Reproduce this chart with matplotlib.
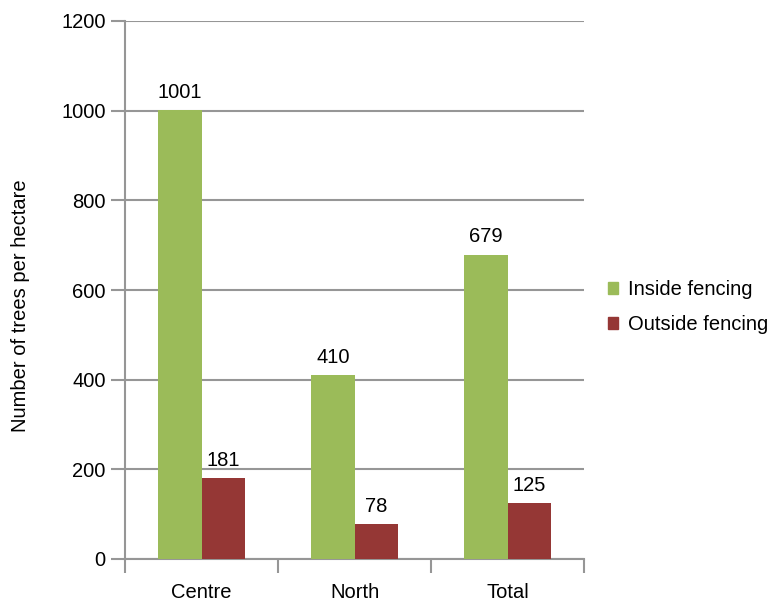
import matplotlib.pyplot as plt
import numpy as np
from matplotlib.patches import Patch

plt.rcParams['font.family'] = ['Liberation Sans', 'DejaVu Sans']

categories = ["Centre", "North", "Total"]
inside = [1001, 410, 679]
outside = [181, 78, 125]
yticks = [0, 200, 400, 600, 800, 1000, 1200]

green = "#9BBB59"
red = "#953735"
grey = "#969696"
fs = 14.5

fig = plt.figure(figsize=(7.84, 6.05), dpi=100)
ax = fig.add_axes([125/784, 46/605, 459/784, 538/605])

x = np.arange(len(categories))
w = 0.284
b1 = ax.bar(x - w/2, inside, w, color=green, zorder=3)
b2 = ax.bar(x + w/2, outside, w, color=red, zorder=3)

for bars in (b1, b2):
    for r in bars:
        ax.annotate(f"{int(r.get_height())}", xy=(r.get_x() + r.get_width()/2, r.get_height()),
                    xytext=(0, 6), textcoords="offset points",
                    ha="center", va="bottom", fontsize=fs)

ax.set_xlim(-0.5, 2.5)
ax.set_ylim(0, 1200)
ax.set_yticks(yticks)
ax.yaxis.grid(True, color=grey, linewidth=1.5, zorder=0)
ax.set_axisbelow(True)

# category ticks sit between the groups
ax.set_xticks([-0.5, 0.5, 1.5, 2.5])
ax.set_xticklabels([])
ax.set_xticks(x, minor=True)
ax.set_xticklabels(categories, minor=True, fontsize=fs)
ax.tick_params(axis="x", which="minor", length=0, pad=17)
ax.tick_params(axis="x", which="major", length=10, width=1.5, color=grey, direction="out")
ax.tick_params(axis="y", length=10, width=1.5, color=grey, labelsize=fs, pad=4)

for s in ["top", "right"]:
    ax.spines[s].set_visible(False)
for s in ["left", "bottom"]:
    ax.spines[s].set_color(grey)
    ax.spines[s].set_linewidth(1.5)

ax.set_ylabel("Number of trees per hectare", fontsize=fs)
ax.yaxis.set_label_coords((30 - 125) / 459, (559 - 306) / 538)

handles = [Patch(color=green, label="Inside fencing"), Patch(color=red, label="Outside fencing")]
fig.legend(handles=handles, loc="center left", bbox_to_anchor=(608/784, 1 - 307/605),
           frameon=False, fontsize=fs, handlelength=0.5, handleheight=0.5,
           handletextpad=0.5, labelspacing=0.8, borderpad=0, borderaxespad=0)

fig.savefig("out.png", dpi=100)
